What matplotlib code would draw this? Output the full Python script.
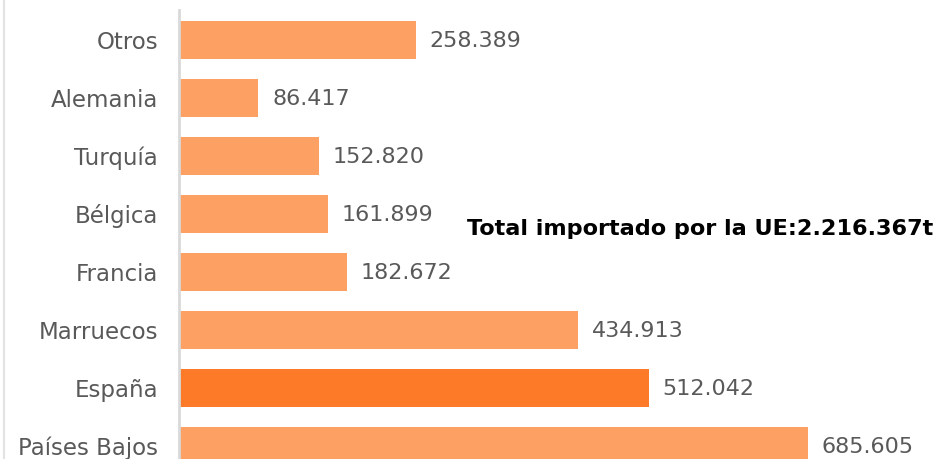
import matplotlib.pyplot as plt
from matplotlib.lines import Line2D

# Importaciones de la UE por origen (toneladas)
paises = ['Países Bajos', 'España', 'Marruecos', 'Francia', 'Bélgica', 'Turquía', 'Alemania', 'Otros']
toneladas = [685605, 512042, 434913, 182672, 161899, 152820, 86417, 258389]
etiquetas = ['685.605', '512.042', '434.913', '182.672', '161.899', '152.820', '86.417', '258.389']
total_texto = 'Total importado por la UE:2.216.367t'

plt.rcParams['font.family'] = ['DejaVu Sans']

color_claro = '#FDA064'
color_espana = '#FD7B28'
colores = [color_espana if p == 'España' else color_claro for p in paises]

fig = plt.figure(figsize=(9.4, 4.59), dpi=100)
ax = fig.add_axes([179 / 940, 0, 761 / 940, 449 / 459])

pos = list(range(len(paises)))
ax.barh(pos, toneladas, height=0.66, color=colores)

# Etiquetas de valor al final de cada barra
for y, v, txt in zip(pos, toneladas, etiquetas):
    ax.text(v + 15000, y - 0.02, txt, va='center', ha='left', fontsize=16, color='#595959')

ax.set_xlim(0, 829500)
ax.set_ylim(-0.224, 7.517)
ax.set_yticks(pos)
ax.set_yticklabels(paises, fontsize=16.5, color='#595959')
ax.tick_params(axis='y', length=0, pad=15)
ax.set_xticks([])

for s in ['top', 'right', 'bottom']:
    ax.spines[s].set_visible(False)
ax.spines['left'].set_color('#D9D9D9')
ax.spines['left'].set_linewidth(2)

ax.text(313900, 3.74, total_texto, va='center', ha='left',
        fontsize=16.1, fontweight='bold', color='black')

# borde gris tenue a la izquierda
fig.add_artist(Line2D([3.5 / 940, 3.5 / 940], [0, 1], color='#E3E3E3', linewidth=1.5))

fig.savefig('out.png', dpi=100)
